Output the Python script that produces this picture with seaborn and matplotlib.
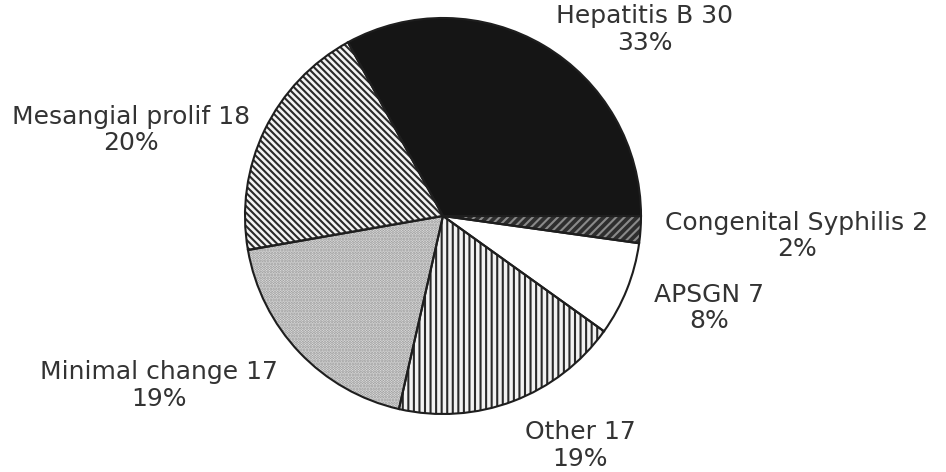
import numpy as np
import matplotlib
matplotlib.use("Agg")
import matplotlib.pyplot as plt
import seaborn as sns

sns.set_theme(style="white")
plt.rcParams["font.family"] = ["DejaVu Sans"]
plt.rcParams["hatch.linewidth"] = 1.5

# Data
diagnoses = ["Hepatitis B", "Mesangial prolif", "Minimal change", "Other", "APSGN", "Congenital Syphilis"]
counts = [30, 18, 17, 17, 7, 2]

# fill styles (face, hatch, hatch colour) per slice
faces = ["#151515", "#f4f4f4", "#ececec", "#f2f2f2", "#ffffff", "#2e2e2e"]
hatches = [None, "\\\\\\\\\\", "......", "|||", None, "////"]
hatch_colors = ["#151515", "#2a2a2a", "#8f8f8f", "#2a2a2a", "#222222", "#8a8a8a"]

# label block centres, in pie radius units
label_pos = [(1.02, 0.94), (-1.576, 0.434), (-1.434, -0.854), (0.692, -1.157), (1.343, -0.465), (1.788, -0.101)]

total = sum(counts)
pcts = [round(100 * c / total) for c in counts]

fig = plt.figure(figsize=(9.46, 4.72), dpi=100)
ax = fig.add_axes([(443 - 198) / 946, (472 - 216 - 198) / 472, 396 / 946, 396 / 472])

wedges, _ = ax.pie(counts, startangle=0, counterclock=True, radius=1,
                   colors=faces, wedgeprops={"linewidth": 0})
for w, h, hc in zip(wedges, hatches, hatch_colors):
    w.set_edgecolor(hc)
    w.set_linewidth(0)
    if h:
        w.set_hatch(h)

# outlines drawn on top
ax.pie(counts, startangle=0, counterclock=True, radius=1,
       wedgeprops={"fill": False, "edgecolor": "#1e1e1e", "linewidth": 1.5})

for name, c, p, (x, y) in zip(diagnoses, counts, pcts, label_pos):
    ax.text(x, y, f"{name} {c}\n{p}%", ha="center", va="center",
            fontsize=18, color="#333333", linespacing=1.15, clip_on=False)

ax.set_xlim(-1, 1)
ax.set_ylim(-1, 1)
ax.set_aspect("equal")
ax.axis("off")

fig.savefig("out.png", dpi=100, facecolor="white")
